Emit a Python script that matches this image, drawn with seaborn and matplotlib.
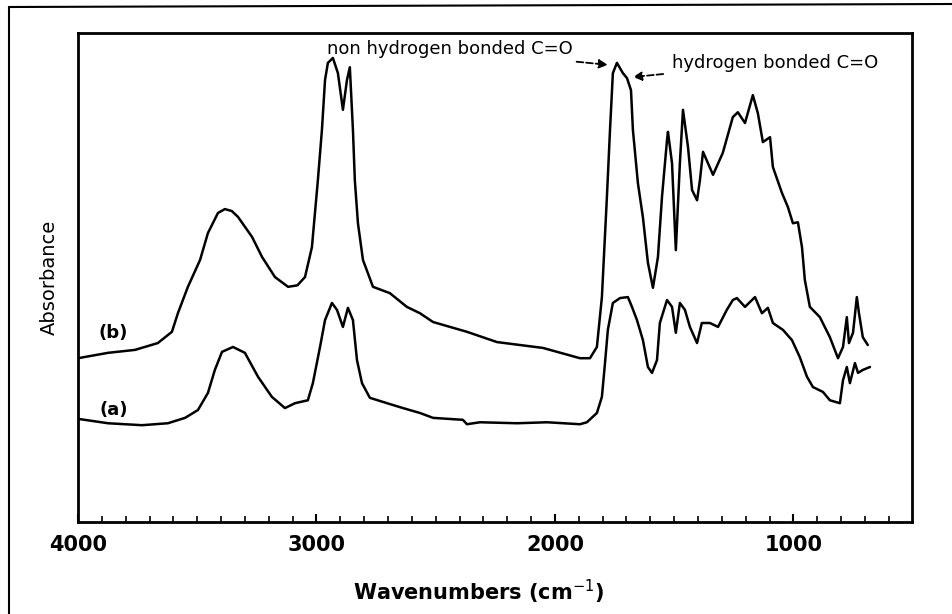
import numpy as np
import pandas as pd
import matplotlib
matplotlib.use('Agg')
import matplotlib.pyplot as plt
from matplotlib.ticker import MultipleLocator
from matplotlib.lines import Line2D
import seaborn as sns

# spectrum (b) - upper trace
wn_b = [4000, 3874, 3761, 3665, 3606, 3581, 3539, 3488, 3455, 3413, 3384, 3355, 3329, 3270, 3228,
        3174, 3119, 3080, 3048, 3019, 2994, 2977, 2964, 2952, 2931, 2910, 2889, 2872, 2860, 2847,
        2839, 2826, 2805, 2763, 2692, 2621, 2566, 2511, 2369, 2243, 2050, 1895, 1853, 1824,
        1803, 1782, 1769, 1757, 1740, 1715, 1698, 1681, 1673, 1652, 1631, 1610, 1589, 1568,
        1551, 1530, 1526, 1509, 1493, 1476, 1463, 1442, 1425, 1404, 1392, 1379, 1337, 1296,
        1254, 1233, 1203, 1170, 1149, 1128, 1098, 1086, 1048, 1023, 1002, 981, 964, 952,
        931, 889, 847, 813, 792, 776, 767, 750, 734, 725, 709, 688]
ab_b = [0.335, 0.346, 0.352, 0.366, 0.389, 0.427, 0.481, 0.536, 0.591, 0.632, 0.640, 0.636, 0.624, 0.583, 0.542,
        0.501, 0.481, 0.484, 0.501, 0.562, 0.699, 0.802, 0.904, 0.939, 0.949, 0.918, 0.843, 0.904, 0.930, 0.802,
        0.699, 0.611, 0.536, 0.481, 0.468, 0.440, 0.427, 0.409, 0.389, 0.368, 0.356, 0.335, 0.335, 0.358,
        0.460, 0.665, 0.802, 0.918, 0.939, 0.918, 0.908, 0.883, 0.802, 0.693, 0.623, 0.530, 0.479, 0.542,
        0.665, 0.781, 0.798, 0.734, 0.556, 0.734, 0.843, 0.767, 0.679, 0.658, 0.699, 0.757, 0.710, 0.755,
        0.828, 0.838, 0.816, 0.873, 0.836, 0.777, 0.787, 0.726, 0.673, 0.644, 0.611, 0.613, 0.562, 0.495,
        0.440, 0.419, 0.378, 0.335, 0.358, 0.419, 0.366, 0.387, 0.460, 0.427, 0.378, 0.362]

# spectrum (a) - lower trace
wn_a = [4000, 3874, 3732, 3623, 3551, 3497, 3455, 3426, 3396, 3350, 3300, 3245, 3187, 3132,
        3090, 3036, 3015, 2985, 2964, 2935, 2914, 2889, 2868, 2847, 2830, 2809, 2776, 2704,
        2637, 2566, 2511, 2386, 2369, 2314, 2159, 2033, 1895, 1866, 1824, 1803, 1790, 1778,
        1757, 1727, 1694, 1677, 1656, 1631, 1610, 1593, 1572, 1560, 1530, 1509, 1493, 1476,
        1455, 1434, 1404, 1384, 1350, 1316, 1279, 1254, 1237, 1203, 1161, 1132, 1107, 1086,
        1044, 1006, 973, 943, 918, 876, 847, 805, 792, 776, 763, 742, 729, 709, 679]
ab_a = [0.211, 0.202, 0.198, 0.202, 0.213, 0.229, 0.264, 0.311, 0.348, 0.358, 0.346, 0.297, 0.256, 0.233,
        0.243, 0.249, 0.284, 0.358, 0.413, 0.448, 0.434, 0.399, 0.438, 0.413, 0.331, 0.284, 0.254, 0.243,
        0.233, 0.223, 0.213, 0.209, 0.200, 0.204, 0.202, 0.204, 0.200, 0.204, 0.223, 0.256, 0.325, 0.393,
        0.448, 0.458, 0.460, 0.440, 0.413, 0.372, 0.317, 0.305, 0.331, 0.407, 0.454, 0.440, 0.387, 0.448,
        0.434, 0.399, 0.366, 0.407, 0.407, 0.399, 0.434, 0.454, 0.458, 0.440, 0.460, 0.427, 0.438, 0.407,
        0.393, 0.372, 0.337, 0.297, 0.276, 0.266, 0.249, 0.243, 0.290, 0.317, 0.284, 0.325, 0.305, 0.311, 0.317]

sns.set_style('white')
plt.rcParams['font.family'] = ['DejaVu Sans']
plt.rcParams['text.color'] = 'black'
plt.rcParams['axes.labelcolor'] = 'black'
plt.rcParams['xtick.color'] = 'black'

fig = plt.figure(figsize=(9.52, 6.14), dpi=100)
ax = fig.add_axes([0.0819, 0.1498, 0.876, 0.7964])

sns.lineplot(x=wn_b, y=ab_b, sort=False, estimator=None, color='black', linewidth=1.8, ax=ax)
sns.lineplot(x=wn_a, y=ab_a, sort=False, estimator=None, color='black', linewidth=1.8, ax=ax)

ax.set_xlim(4000, 503)
ax.set_ylim(0, 1)
ax.xaxis.set_major_locator(MultipleLocator(1000))
ax.xaxis.set_minor_locator(MultipleLocator(100))
ax.set_yticks([])
ax.tick_params(axis='x', which='major', direction='in', length=6, width=1.5,
               labelsize=15, pad=9, bottom=True, top=False, colors='black')
ax.tick_params(axis='x', which='minor', direction='in', length=4, width=1.2, bottom=True, top=False)
for lbl in ax.get_xticklabels():
    lbl.set_fontweight('bold')
for s in ax.spines.values():
    s.set_linewidth(2)
    s.set_color('black')

ax.set_xlabel('Wavenumbers (cm$^{-1}$)', fontsize=15, fontweight='bold', labelpad=12)
ax.xaxis.set_label_coords(0.481, -0.115)
ax.set_ylabel('Absorbance', fontsize=14, labelpad=14)

ax.text(3853, 0.386, '(b)', fontsize=13, fontweight='bold', ha='center', va='center')
ax.text(3849, 0.229, '(a)', fontsize=13, fontweight='bold', ha='center', va='center')

ax.annotate('non hydrogen bonded C=O', xy=(1778, 0.935), xytext=(1925, 0.967),
            fontsize=13, ha='right', va='center',
            arrowprops=dict(arrowstyle='-|>', color='black', lw=1.3, linestyle='--', shrinkA=2, shrinkB=0))
ax.annotate('hydrogen bonded C=O', xy=(1673, 0.910), xytext=(1509, 0.939),
            fontsize=13, ha='left', va='center',
            arrowprops=dict(arrowstyle='-|>', color='black', lw=1.3, linestyle='--', shrinkA=4, shrinkB=0))

# scanned page border
fig.add_artist(Line2D([9 / 952, 9 / 952], [0, 1 - 7 / 614], transform=fig.transFigure, color='black', lw=1.5))
fig.add_artist(Line2D([9 / 952, 1], [1 - 7 / 614, 1 - 4 / 614], transform=fig.transFigure, color='black', lw=1.5))

fig.savefig('out.png', dpi=100)
